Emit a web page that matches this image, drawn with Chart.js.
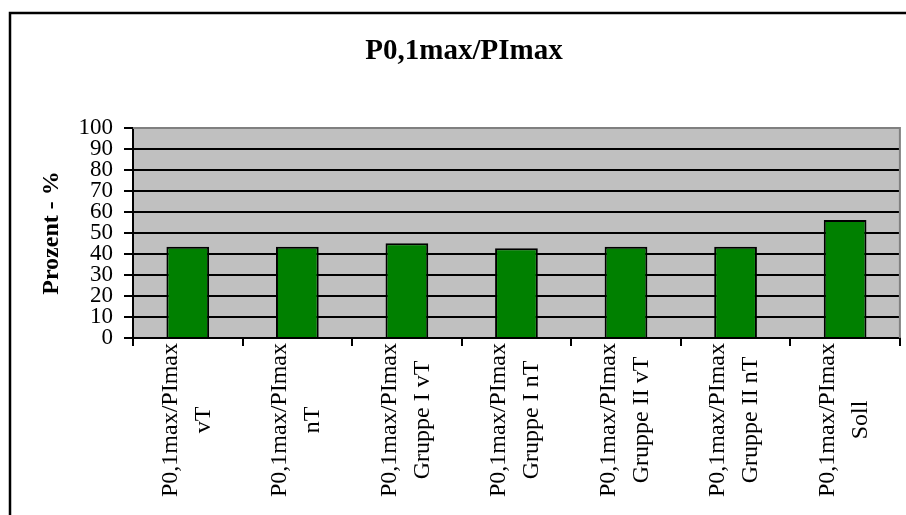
<!DOCTYPE html>
<html>
<head>
<meta charset="utf-8">
<script src="https://cdn.jsdelivr.net/npm/chart.js@4"></script>
<style>
    html, body { margin: 0; padding: 0; background: #ffffff; }
    #wrap { width: 906px; height: 515px; position: relative; }
</style>
</head>
<body>
<div id="wrap"><canvas id="chart"></canvas></div>
<script>
const chartTitle = 'P0,1max/PImax';
const yAxisTitle = 'Prozent - %';
const categories = [
    ['P0,1max/PImax', 'vT'],
    ['P0,1max/PImax', 'nT'],
    ['P0,1max/PImax', 'Gruppe I vT'],
    ['P0,1max/PImax', 'Gruppe I nT'],
    ['P0,1max/PImax', 'Gruppe II vT'],
    ['P0,1max/PImax', 'Gruppe II nT'],
    ['P0,1max/PImax', 'Soll']
];
const values = [43.5, 43.5, 45.1, 42.7, 43.5, 43.5, 56.2];
const yMin = 0;
const yMax = 100;
const yStep = 10;

const serif = "'Liberation Serif', 'Times New Roman', serif";

// gray plot area, outer frame, gray top/right edge of the plot
const frame = {
    id: 'frame',
    beforeDraw(chart) {
        const { ctx, chartArea: a } = chart;
        ctx.save();
        ctx.fillStyle = '#c0c0c0';
        ctx.fillRect(a.left, a.top, a.right - a.left, a.bottom - a.top);
        ctx.strokeStyle = '#000000';
        ctx.lineWidth = 2.5;
        ctx.beginPath();
        ctx.moveTo(10, 520);
        ctx.lineTo(10, 13);
        ctx.lineTo(910, 13);
        ctx.stroke();
        ctx.restore();
    },
    afterDatasetsDraw(chart) {
        const { ctx, chartArea: a } = chart;
        ctx.save();
        ctx.strokeStyle = '#808080';
        ctx.lineWidth = 2;
        ctx.beginPath();
        ctx.moveTo(a.left, a.top);
        ctx.lineTo(a.right, a.top);
        ctx.lineTo(a.right, a.bottom);
        ctx.stroke();
        ctx.restore();
    }
};

// rotated category labels, lines centred on each other like the original
const rotatedLabels = {
    id: 'rotatedLabels',
    afterDraw(chart) {
        const { ctx } = chart;
        const x = chart.scales.x;
        const size = 24;
        const lh = 33;
        ctx.save();
        ctx.font = size + 'px ' + serif;
        ctx.fillStyle = '#000000';
        ctx.textAlign = 'center';
        ctx.textBaseline = 'middle';
        let maxW = 0;
        categories.forEach(lines => lines.forEach(l => { maxW = Math.max(maxW, ctx.measureText(l).width); }));
        const cy = x.top + 5 + maxW / 2;
        categories.forEach((lines, i) => {
            const px = x.getPixelForTick(i);
            ctx.save();
            ctx.translate(px - 1, cy);
            ctx.rotate(-Math.PI / 2);
            lines.forEach((l, j) => {
                ctx.fillText(l, 0, (j - (lines.length - 1) / 2) * lh);
            });
            ctx.restore();
        });
        ctx.restore();
    }
};

new Chart(document.getElementById('chart'), {
    type: 'bar',
    data: {
        labels: categories,
        datasets: [{
            data: values,
            backgroundColor: '#008000',
            borderColor: '#000000',
            borderWidth: 2,
            categoryPercentage: 1,
            barPercentage: 0.39
        }]
    },
    options: {
        responsive: true,
        maintainAspectRatio: false,
        animation: false,
        layout: { padding: { left: 26, right: 4, top: 0, bottom: 0 } },
        plugins: {
            legend: { display: false },
            tooltip: { enabled: false },
            title: {
                display: true,
                text: chartTitle,
                color: '#000000',
                font: { family: serif, size: 29, weight: 'bold' },
                padding: { top: 34.6, bottom: 58.6 }
            }
        },
        scales: {
            x: {
                afterFit: function (s) { s.height = 177; },
                ticks: {
                    color: 'rgba(0,0,0,0)',
                    autoSkip: false,
                    minRotation: 90,
                    maxRotation: 90,
                    font: { family: serif, size: 24 }
                },
                grid: {
                    offset: true,
                    drawOnChartArea: false,
                    drawTicks: true,
                    tickLength: 8,
                    color: '#000000',
                    lineWidth: 2
                },
                border: { color: '#000000', width: 2 }
            },
            y: {
                min: yMin,
                max: yMax,
                afterFit: function (s) { s.width = 107; },
                ticks: {
                    stepSize: yStep,
                    autoSkip: false,
                    color: '#000000',
                    padding: 11,
                    font: { family: serif, size: 23 }
                },
                grid: {
                    color: function (c) { return c.tick && c.tick.value === yMax ? '#808080' : '#000000'; },
                    tickColor: '#000000',
                    tickLength: 9,
                    lineWidth: 2
                },
                border: { color: '#000000', width: 2 },
                title: {
                    display: true,
                    text: yAxisTitle,
                    color: '#000000',
                    font: { family: serif, size: 24, weight: 'bold' },
                    padding: { top: 11, bottom: 0 }
                }
            }
        }
    },
    plugins: [frame, rotatedLabels]
});
</script>
</body>
</html>
